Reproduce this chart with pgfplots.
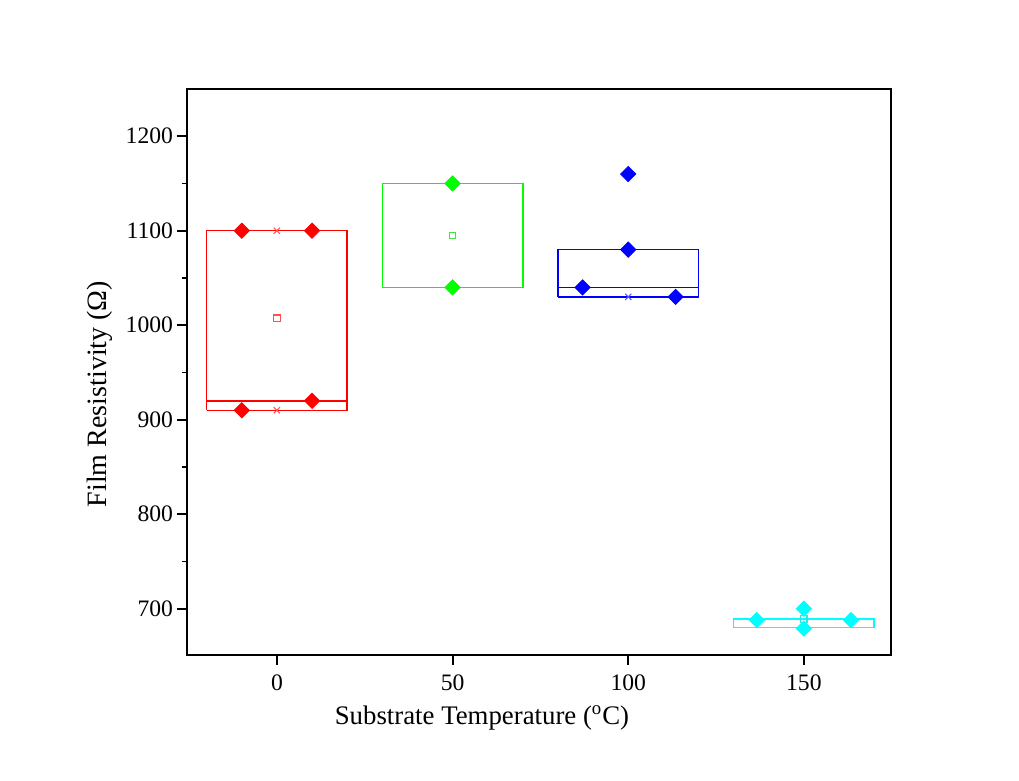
\documentclass[border=0pt]{standalone}
\usepackage{fontspec}
\setmainfont{Liberation Serif}
\usepackage{pgfplots}
\pgfplotsset{compat=1.18}
\definecolor{cR}{RGB}{255,0,0}
\definecolor{cG}{RGB}{0,255,0}
\definecolor{cB}{RGB}{0,0,255}
\definecolor{cC}{RGB}{0,255,255}
\definecolor{cRm}{RGB}{255,80,80}
\definecolor{cGm}{RGB}{60,230,60}
\definecolor{cBm}{RGB}{90,90,255}
\definecolor{cCm}{RGB}{40,230,230}
\begin{document}
\begin{tikzpicture}
\path[use as bounding box] (-93.5pt,-63pt) rectangle (416pt,327.5pt);
\begin{axis}[
  at={(0,0)}, anchor=south west,
  scale only axis, width=352pt, height=283pt,
  xmin=-25.6, xmax=174.8, ymin=651, ymax=1250,
  xtick={0,50,100,150},
  ytick={700,800,900,1000,1100,1200},
  minor ytick={750,850,950,1050,1150},
  tick pos=left, tick align=outside,
  major tick length=5pt, minor tick length=2.5pt,
  axis line style={line width=1pt},
  every tick/.style={black, line width=1pt},
  every minor tick/.style={black, line width=0.8pt},
  /pgf/number format/assume math mode=true,
  /pgf/number format/1000 sep={},
  tick label style={font=\fontsize{11.8}{14}\selectfont},
  xticklabel style={yshift=-1.5pt},
  yticklabel style={xshift=1.5pt},
  xlabel={Substrate Temperature (\textsuperscript{o}C)},
  ylabel={Film Resistivity (Ω)},
  xlabel style={font=\fontsize{13.4}{15}\selectfont, at={(axis description cs:0.419,-0.1113)}, anchor=center},
  ylabel style={font=\fontsize{14}{16}\selectfont, at={(axis description cs:-0.1236,0.461)}, anchor=center, rotate=0},
  clip=false,
]
% boxes
\addplot[cR, line width=0.7pt, mark=none] coordinates {(-20,910) (20,910) (20,1100) (-20,1100) (-20,910)};
\addplot[cR, line width=0.7pt, mark=none] coordinates {(-20,920) (20,920)};
\addplot[cG, line width=0.7pt, mark=none] coordinates {(30,1040) (70,1040) (70,1150) (30,1150) (30,1040)};
\addplot[cB, line width=0.7pt, mark=none] coordinates {(80,1030) (120,1030) (120,1080) (80,1080) (80,1030)};
\addplot[cB, line width=0.7pt, mark=none] coordinates {(80,1040) (120,1040)};
\addplot[cC, line width=0.7pt, mark=none] coordinates {(130,680) (170,680) (170,689) (130,689) (130,680)};
% min/max crosses
\addplot[only marks, mark=x, mark size=2.2pt, mark options={draw=cRm, line width=0.5pt}] coordinates {(0,1100) (0,910)};
\addplot[only marks, mark=x, mark size=2.2pt, mark options={draw=cBm, line width=0.5pt}] coordinates {(100,1030) (100,1160)};
\addplot[only marks, mark=x, mark size=2.2pt, mark options={draw=cGm, line width=0.5pt}] coordinates {(50,1040) (50,1150)};
\addplot[only marks, mark=x, mark size=2.2pt, mark options={draw=cCm, line width=0.5pt}] coordinates {(150,680) (150,700)};
% means
\addplot[only marks, mark=square, mark size=1.6pt, mark options={draw=cRm, fill=white, line width=0.6pt}] coordinates {(0,1007.5)};
\addplot[only marks, mark=square, mark size=1.6pt, mark options={draw=cGm, fill=white, line width=0.6pt}] coordinates {(50,1095)};
\addplot[only marks, mark=square, mark size=1.6pt, mark options={draw=cCm, fill=white, line width=0.6pt}] coordinates {(150,689)};
% data points
\addplot[only marks, mark=square*, mark options={rotate=45, fill=cR, draw=cR}, mark size=2.7pt] coordinates {(-10,1100) (10,1100) (-10,910) (10,920)};
\addplot[only marks, mark=square*, mark options={rotate=45, fill=cG, draw=cG}, mark size=2.7pt] coordinates {(50,1150) (50,1040)};
\addplot[only marks, mark=square*, mark options={rotate=45, fill=cB, draw=cB}, mark size=2.7pt] coordinates {(100,1160) (100,1080) (87,1040) (113.5,1030)};
\addplot[only marks, mark=square*, mark options={rotate=45, fill=cC, draw=cC}, mark size=2.7pt] coordinates {(136.6,688) (150,700) (150,679) (163.4,688)};
\end{axis}
\end{tikzpicture}
\end{document}
